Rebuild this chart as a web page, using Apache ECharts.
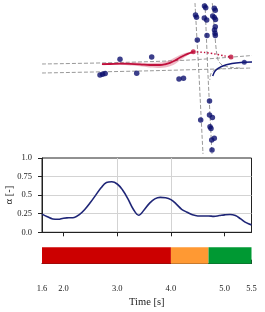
<!DOCTYPE html>
<html>
<head>
<meta charset="utf-8">
<script src="https://cdn.jsdelivr.net/npm/echarts@6/dist/echarts.min.js"></script>
<style>html,body{margin:0;padding:0;background:#fff}#c{width:265px;height:312px}</style>
</head>
<body>
<div id="c"></div>
<script>
// ---- map panel (scene coordinates) ----
const laneUpper = [[42,64],[120,62.5],[190,60],[252,55.5]];
const laneLower = [[42,73],[150,70.8],[252,68]];
const laneVertLeft = [[195,3],[197,40],[199,75],[201,115],[203,154]];
const laneVertMid = [[205,3],[206.5,40],[208,75],[210,115],[212,154]];
const laneVertRight = [[212.3,3],[214.5,30],[216.5,52],[218.5,61],[223,65.5],[232,67.5],[240,68]];
const laneTurn = [[222,68.5],[215,69.8],[211,73.5],[209.8,80]];
const obstacleDots = [
  [120,59.3],[151.7,57],[100,75],[102.6,74.2],[105.2,73.4],[136.7,73.3],[179,79],[183.5,78.2],
  [195.5,15],[196.5,17.3],[204.5,6],[205.7,7.8],[204.3,18],[206.7,20],[214.3,8.3],[215.3,10.3],
  [212.7,16],[214.3,17.5],[215.5,19.5],[215.3,26.7],[214.5,30],[215,33.3],[215.3,35.5],[207,35.5],[197.3,40],
  [209.5,101],[200.7,120],[209.5,115],[212.4,117.6],[210,126.7],[211,128.5],[211.7,140],[214.3,138.3],[212,150]
];
const egoPath = [[102,64.2],[110,64],[120,63.6],[130,63.8],[140,64.3],[150,65],[160,65],[165,64.3],[170,62.8],[175,60.5],[180,57.5],[185,55],[190,53],[193.3,51.7]];
const bandX = [102,110,120,130,140,150,160,165,170,175,180,185,190,193.3];
const bandUpper = [63.5,63.2,62.6,62.6,62.7,63,62.6,61.7,60,57.5,55,53,52,51];
const bandLower = [65,65,65,65.5,66.3,67.5,68,67.5,66.3,64,60.5,57,54,52.5];
const predictedPath = [[193.3,51.7],[205,52.5],[215,54],[224,55.8],[231,57]];
const egoMarks = [[193.3,51.7],[231,57]];
const otherPath = [[212.7,76],[215.5,70.5],[221.5,66.5],[232,63.5],[244,62.3],[252,62]];
const otherMark = [[244.3,62.3]];

// ---- alpha panel ----
const timeS = [1.6,1.7,1.8,1.9,2.0,2.1,2.2,2.3,2.4,2.5,2.6,2.7,2.8,2.9,3.0,3.1,3.2,3.3,3.4,3.5,3.6,3.7,3.8,3.9,4.0,4.1,4.2,4.3,4.4,4.5,4.6,4.7,4.8,4.9,5.0,5.1,5.2,5.3,5.4,5.5];
const alphaVals = [0.245,0.21,0.18,0.175,0.19,0.195,0.20,0.24,0.31,0.40,0.50,0.60,0.67,0.68,0.65,0.57,0.45,0.31,0.23,0.30,0.39,0.45,0.47,0.465,0.44,0.38,0.31,0.27,0.235,0.22,0.22,0.22,0.215,0.225,0.235,0.24,0.225,0.18,0.13,0.10];
const alphaTicks = [0,0.25,0.5,0.75,1.0];

// ---- phase bar ----
const phaseStart = [1.6,4.0,4.7];
const phaseEnd = [4.0,4.7,5.5];
const phaseColors = ['#cc0000','#ff9933','#009933'];

const FONT = 'Liberation Serif';
const dashC = '#8c8c8c';
function lane(d){return {type:'line',xAxisIndex:0,yAxisIndex:0,data:d,showSymbol:false,smooth:0.3,silent:true,z:1,
  lineStyle:{color:dashC,width:0.9,type:[4,2]}};}

const chart = echarts.init(document.getElementById('c'),null,{renderer:'canvas'});
chart.setOption({
  animation:false,
  grid:[
    {left:0,top:0,width:265,height:155,outerBoundsMode:'none',containLabel:false},
    {left:42,top:158,width:209.5,height:74.3,show:true,borderColor:'#222',borderWidth:1,backgroundColor:'transparent',outerBoundsMode:'none',containLabel:false},
    {left:42,top:247.3,width:209.5,height:16.4,outerBoundsMode:'none',containLabel:false}
  ],
  xAxis:[
    {gridIndex:0,type:'value',min:0,max:265,show:false},
    {gridIndex:1,type:'value',min:1.6,max:5.5,splitNumber:4,
      axisLine:{show:true,lineStyle:{color:'#222',width:1}},
      axisTick:{show:true,inside:false,length:4,customValues:[2,3,4,5],lineStyle:{color:'#222'}},
      axisLabel:{show:false},
      splitLine:{show:true,showMinLine:false,showMaxLine:false,lineStyle:{color:'#d3d3d3',width:1}}},
    {gridIndex:2,type:'value',min:1.6,max:5.5,splitNumber:4,offset:15.3,
      axisLine:{show:true,lineStyle:{color:'#222',width:1}},
      axisTick:{show:true,inside:true,length:4,lineStyle:{color:'#222'}},
      axisLabel:{show:true,margin:5,fontFamily:FONT,fontSize:8.5,color:'#222',showMinLabel:true,showMaxLabel:true,
        formatter:v=>Number(v).toFixed(1)},
      splitLine:{show:false},
      name:'Time [s]',nameLocation:'middle',nameGap:18,nameTextStyle:{fontFamily:FONT,fontSize:10.5,color:'#222'}}
  ],
  yAxis:[
    {gridIndex:0,type:'value',min:0,max:155,inverse:true,show:false},
    {gridIndex:1,type:'value',min:0,max:1,interval:0.25,
      axisLine:{show:true,lineStyle:{color:'#222',width:1}},
      axisTick:{show:true,inside:false,length:4,lineStyle:{color:'#222'}},
      axisLabel:{margin:10,fontFamily:FONT,fontSize:8.5,color:'#222',
        formatter:v=>(v===0?'0.0':(v===1?'1.0':String(v)))},
      splitLine:{show:true,showMinLine:false,showMaxLine:false,lineStyle:{color:'#d3d3d3',width:1}},
      name:'α [-]',nameLocation:'middle',nameGap:27,nameRotate:90,nameMoveOverlap:false,
      nameTextStyle:{fontFamily:FONT,fontSize:10.5,color:'#222'}},
    {gridIndex:2,type:'value',min:0,max:1,show:false}
  ],
  series:[
    lane(laneUpper),lane(laneLower),lane(laneVertLeft),lane(laneVertMid),lane(laneVertRight),lane(laneTurn),
    {type:'custom',xAxisIndex:0,yAxisIndex:0,silent:true,z:2,data:[[bandX[0],bandUpper[0]]],
      renderItem:(params,api)=>{
        const pts=[];
        for(let i=0;i<bandX.length;i++) pts.push(api.coord([bandX[i],bandUpper[i]]));
        for(let i=bandX.length-1;i>=0;i--) pts.push(api.coord([bandX[i],bandLower[i]]));
        return {type:'polygon',shape:{points:pts,smooth:0.3},style:{fill:'rgba(205,60,95,0.35)'}};
      }},
    {type:'line',xAxisIndex:0,yAxisIndex:0,data:egoPath,showSymbol:false,smooth:0.4,z:3,
      lineStyle:{color:'#c0103c',width:1.8}},
    {type:'line',xAxisIndex:0,yAxisIndex:0,data:predictedPath,showSymbol:false,smooth:0.3,z:3,
      lineStyle:{color:'#c0103c',width:1.4,type:[1.5,2]}},
    {type:'scatter',xAxisIndex:0,yAxisIndex:0,data:egoMarks,symbolSize:5,z:4,itemStyle:{color:'#c0103c'}},
    {type:'line',xAxisIndex:0,yAxisIndex:0,data:otherPath,showSymbol:false,smooth:0.4,z:3,
      lineStyle:{color:'#141a78',width:1.5}},
    {type:'scatter',xAxisIndex:0,yAxisIndex:0,data:otherMark,symbolSize:5,z:4,itemStyle:{color:'#141a78'}},
    {type:'scatter',xAxisIndex:0,yAxisIndex:0,data:obstacleDots,symbolSize:5.5,z:4,itemStyle:{color:'#0b0f6e'}},
    {type:'line',xAxisIndex:1,yAxisIndex:1,data:timeS.map((t,i)=>[t,alphaVals[i]]),showSymbol:false,smooth:0.4,z:3,
      lineStyle:{color:'#1f2677',width:1.6}},
    {type:'custom',xAxisIndex:2,yAxisIndex:2,silent:true,
      data:phaseStart.map((s,i)=>[s,phaseEnd[i],i]),encode:{x:[0,1]},
      renderItem:(params,api)=>{
        const a=api.coord([api.value(0),1]), b=api.coord([api.value(1),0]);
        return {type:'rect',shape:{x:a[0],y:a[1],width:b[0]-a[0],height:b[1]-a[1]},style:{fill:phaseColors[api.value(2)]}};
      }}
  ]
});
</script>
</body>
</html>
